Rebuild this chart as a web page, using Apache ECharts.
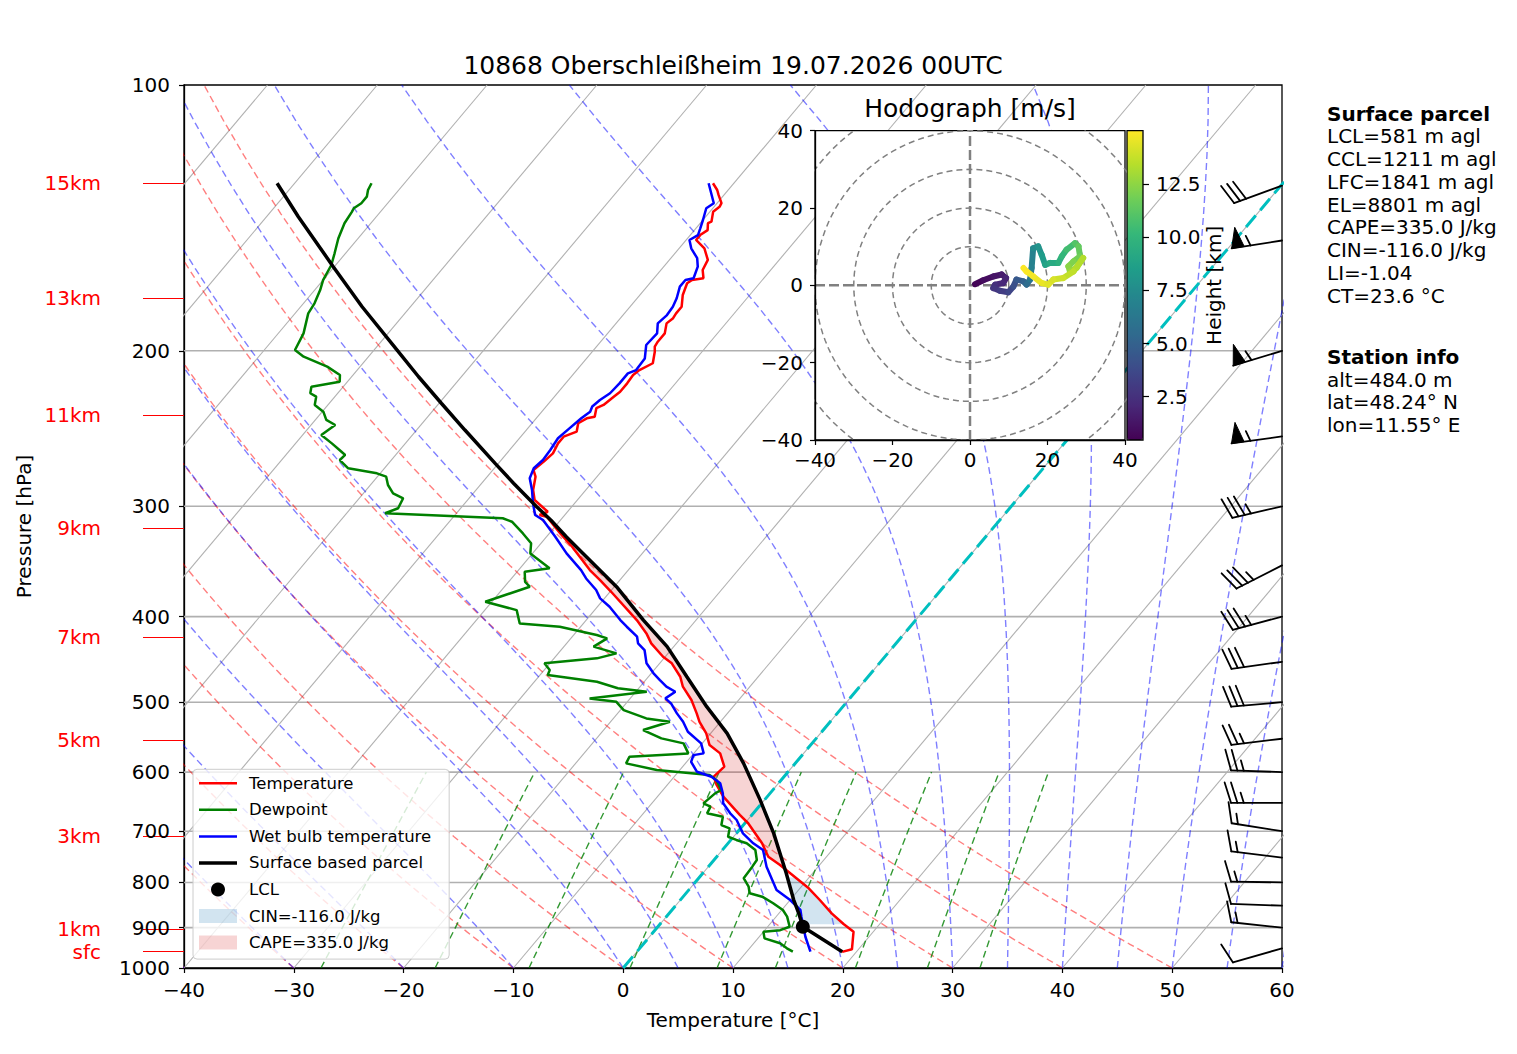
<!DOCTYPE html>
<html><head><meta charset="utf-8">
<script src="https://cdn.jsdelivr.net/npm/echarts@6.0.0/dist/echarts.min.js"></script>
<style>html,body{margin:0;padding:0;background:#fff}#c{width:1517px;height:1054px}</style>
</head><body><div id="c"></div>
<script>
// ---------------- DATA ----------------
const titleText = '10868 Oberschleißheim 19.07.2026 00UTC';
const hodoTitle = 'Hodograph [m/s]';

const tempP = [958.8,952.4,909.7,891.6,867.1,837.5,812.4,764.5,748.2,722.4,685.6,670.9,639.6,620.5,607.2,591.6,571.4,559.2,542.3,526.2,514.8,497.2,480.2,467.9,451.8,444.1,428.9,417.9,403.6,374.9,363.7,354.3,333.4,322.0,308.3,306.9,304.3,295.1,287.5,277.7,272.9,267.0,261.3,254.6,250.2,246.9,241.6,238.5,237.5,232.3,230.3,225.4,222.5,217.7,213.0,210.3,206.6,200.5,197.8,195.3,191.1,186.2,183.7,181.4,178.3,172.9,167.7,166.3,165.5,162.0,157.8,153.1,149.8,147.9,146.0,143.4,142.8,139.2,137.4,136.1,133.2,131.5,129.2];
const tempT = [18.7,19.4,18.2,16.7,14.8,12.7,10.8,6.4,4.7,3.1,0.3,-1.1,-4.0,-5.5,-6.4,-6.2,-7.6,-9.2,-10.4,-11.9,-12.8,-14.3,-16.1,-17.1,-18.9,-20.2,-22.3,-23.5,-25.4,-29.9,-31.8,-33.5,-36.9,-39.0,-41.5,-42.3,-41.8,-43.9,-44.8,-45.6,-46.3,-46.0,-45.8,-46.1,-46.1,-45.3,-45.8,-45.4,-44.8,-45.3,-44.9,-44.6,-44.4,-44.4,-44.5,-44.3,-43.6,-44.3,-44.7,-44.8,-44.8,-45.4,-45.2,-45.3,-45.3,-46.1,-46.6,-46.4,-45.5,-46.2,-46.5,-47.7,-49.1,-49.1,-48.8,-49.3,-49.1,-49.7,-49.5,-49.6,-50.5,-51.0,-51.9];

const dewP = [958.3,949.9,937.6,925.6,909.9,906.0,898.0,874.7,859.6,844.6,830.3,823.0,809.0,791.3,767.8,754.5,735.1,722.4,716.1,710.1,694.8,688.9,674.1,668.1,656.6,650.9,634.2,628.7,612.5,604.6,596.8,586.5,576.5,571.4,556.7,549.5,537.7,526.2,521.6,510.4,499.5,495.1,486.6,482.2,474.1,465.9,459.8,451.8,446.0,440.2,432.6,423.3,419.7,410.7,407.2,393.3,384.8,370.0,365.3,355.9,352.7,339.2,330.4,322.0,312.3,309.5,305.5,301.5,293.8,290.0,283.8,277.7,275.3,271.7,265.9,262.4,259.0,254.6,249.1,242.7,239.5,234.4,230.3,225.4,223.4,219.6,216.8,213.0,208.4,203.1,199.6,191.1,181.4,176.7,170.7,166.3,159.9,155.1,149.2,143.4,139.2,137.9,136.1,133.8,131.5,129.2];
const dewT = [14.2,13.4,12.4,10.6,10.0,11.4,12.0,11.0,10.1,8.7,7.2,5.8,5.2,4.1,4.0,3.9,3.0,1.7,0.5,-0.5,-1.0,-2.0,-2.5,-4.2,-4.4,-5.3,-5.0,-4.7,-5.9,-6.9,-12.1,-15.4,-15.6,-10.5,-11.7,-14.1,-16.4,-14.6,-17.0,-19.7,-21.0,-23.7,-19.0,-21.9,-24.3,-29.3,-29.5,-30.5,-26.1,-24.7,-27.3,-26.7,-27.9,-31.9,-35.8,-37.1,-40.6,-37.7,-38.5,-39.3,-37.3,-40.2,-40.9,-42.4,-44.3,-45.4,-56.5,-55.7,-56.0,-57.3,-58.4,-59.2,-60.3,-63.3,-64.7,-64.6,-65.5,-66.7,-68.3,-67.8,-69.0,-69.9,-71.2,-71.7,-72.5,-72.9,-70.7,-71.2,-73.0,-75.9,-77.2,-77.7,-78.8,-79.0,-79.5,-80.0,-80.4,-81.0,-81.8,-82.4,-82.6,-82.7,-82.4,-82.4,-82.8,-83.0];

const wetP = [958.3,921.7,874.7,859.6,837.5,816.1,767.8,735.1,722.4,703.9,679.8,668.0,650.9,634.1,617.8,607.3,599.5,584.1,574.0,571.4,556.7,540.0,526.1,514.8,501.6,495.1,486.6,480.2,472.0,463.7,451.8,436.4,428.9,421.5,410.7,403.6,389.8,381.4,373.2,362.1,354.3,339.2,324.8,310.9,306.9,297.6,287.5,278.9,271.7,265.9,259.0,251.2,244.7,238.5,234.4,231.3,227.4,223.4,217.7,212.1,210.3,204.0,197.0,191.1,186.2,182.2,178.3,174.4,169.2,166.3,165.5,160.6,157.1,153.1,149.8,147.9,145.4,142.2,137.9,136.1,129.2];
const wetT = [15.8,14.2,12.3,11.7,10.0,8.0,5.3,3.7,2.3,0.6,-1.0,-2.1,-3.5,-4.3,-5.3,-6.6,-8.3,-9.6,-9.9,-9.1,-10.1,-12.2,-13.4,-14.6,-15.9,-16.8,-16.4,-17.6,-18.7,-19.8,-21.2,-22.4,-23.5,-24.1,-25.8,-26.9,-28.9,-30.4,-31.4,-33.2,-34.3,-36.9,-39.2,-41.6,-42.7,-43.8,-44.9,-46.0,-46.4,-46.2,-46.3,-46.5,-46.2,-45.9,-45.6,-45.8,-45.6,-45.2,-45.1,-45.1,-44.6,-44.7,-45.6,-45.5,-46.2,-46.0,-46.1,-46.4,-47.0,-47.0,-46.4,-46.9,-47.6,-48.9,-49.7,-49.3,-49.6,-50.0,-50.6,-50.3,-52.3];

const parcelP = [958.3,898.0,867.0,837.0,781.2,703.9,645.1,586.5,542.3,505.9,467.9,432.6,403.6,370.0,339.2,324.8,310.9,300.3,282.5,268.2,245.9,229.3,214.0,199.6,178.3,160.6,141.0,129.2];
const parcelT = [18.7,13.2,11.8,10.3,7.6,3.4,-0.4,-4.7,-8.5,-12.4,-16.5,-20.6,-24.8,-29.8,-35.4,-38.2,-40.9,-43.2,-47.1,-50.3,-55.6,-59.8,-63.9,-67.9,-74.4,-80.1,-87.1,-91.6];

const lclP = 898.0, lclT = 13.2;
const lfcP = 790, elP = 305, cinBaseP = 892;
const cinLabel = 'CIN=-116.0 J/kg';
const capeLabel = 'CAPE=335.0 J/kg';

const barbP   = [950,900,850,800,750,700,650,600,550,500,450,400,350,300,250,200,150,130];
const barbSpd = [10,15,10,15,15,15,25,25,25,30,30,35,35,35,55,55,55,30];
const barbDir = [254,276,272,271,277,279,270,272,263,265,262,255,243,257,262,253,261,250];

const hodoZ = [0.5,0.8,1.1,1.4,1.7,2.0,2.3,2.6,2.9,3.3,3.8,4.3,4.8,5.3,5.9,6.5,7.2,7.7,8.2,8.7,9.1,9.5,9.9,10.3,10.8,11.3,11.7,12.0,12.3,12.6,12.9,13.2,13.5,13.8,14.1,14.3,14.5,14.7,14.9,15.0];
const hodoU = [1.3,3.4,6.0,8.2,9.3,8.6,6.5,6.0,7.7,9.9,11.2,12.0,13.8,14.6,15.5,15.9,16.3,17.6,18.5,19.4,20.6,22.8,23.7,24.9,27.1,28.0,28.4,26.7,25.4,25.8,27.5,29.2,26.7,24.1,21.5,20.2,18.5,16.3,14.6,13.8];
const hodoV = [0.3,1.3,2.3,2.8,1.9,0.6,0.2,-0.7,-1.4,-1.8,-0.3,1.5,1.0,0.2,1.5,4.5,9.6,10.1,7.9,5.3,5.8,5.8,7.5,9.2,10.9,10.1,7.5,6.2,4.9,3.6,4.5,7.1,3.6,1.9,1.5,0.2,0.6,2.3,3.6,4.5];
const hodoZmin = 0.46, hodoZmax = 15.02;
const hodoRings = [10,20,30,40,50];
const cbarTicks = [2.5,5.0,7.5,10.0,12.5];

const pressureTicks = [100,200,300,400,500,600,700,800,900,1000];
const isobars = [200,300,400,500,600,700,800,900];
const heightNames = ['15km','13km','11km','9km','7km','5km','3km','1km','sfc'];
const heightP = [129.2,174.4,236.4,317.5,421.8,551.8,708.8,903.4,958.3];

const mixingRatios = [0.0004,0.001,0.002,0.004,0.007,0.01,0.016,0.024,0.032];
const dryT0 = [-40,-30,-20,-10,0,10,20,30,40,50];
const moistT0 = [-40,-30,-20,-10,0,5,10,15,20,25,30,35,40,45,50,55,60];

const parcelHeader = 'Surface parcel';
const parcelInfo = ['LCL=581 m agl','CCL=1211 m agl','LFC=1841 m agl','EL=8801 m agl','CAPE=335.0 J/kg','CIN=-116.0 J/kg','LI=-1.04','CT=23.6 °C'];
const stationHeader = 'Station info';
const stationInfo = ['alt=484.0 m','lat=48.24° N','lon=11.55° E'];

// ---------------- HELPERS ----------------
const FONT = "'DejaVu Sans', sans-serif";
const SKEW = 67.6; // skew of the Skew-T projection (degC per decade of pressure)
const sx = (T, p) => T + SKEW * Math.log10(1000 / p);
const ly = p => Math.log10(p);
const prof = (P, T) => P.map((p, i) => [sx(T[i], p), ly(p)]);
const fmtMinus = v => (v < 0 ? '\u2212' + Math.abs(v) : String(v));
function interp(P, T, p) {
  for (let i = 0; i < P.length - 1; i++) {
    if (P[i] >= p && P[i + 1] <= p) {
      const f = (Math.log(p) - Math.log(P[i])) / (Math.log(P[i + 1]) - Math.log(P[i]));
      return T[i] + f * (T[i + 1] - T[i]);
    }
  }
  return p > P[0] ? T[0] : T[T.length - 1];
}
function satMix(p, T) { const es = 6.112 * Math.exp(17.67 * (T - 273.15) / (T - 29.65)); return 0.621957 * es / (p - es); }
function dTdp(p, T) {
  const rs = satMix(p, T), Rd = 287.04749, Cp = 1004.6662, Lv = 2.50084e6, eps = 0.621957;
  return (Rd * T + Lv * rs) / (Cp + Lv * Lv * rs * eps / (Rd * T * T)) / p;
}
function moistLine(t0) {
  let T = t0 + 273.15, p = 1000; const dp = -5; const pts = [[sx(t0, 1000), 3]];
  while (p > 100.5) {
    const k1 = dTdp(p, T), k2 = dTdp(p + dp / 2, T + dp / 2 * k1), k3 = dTdp(p + dp / 2, T + dp / 2 * k2), k4 = dTdp(p + dp, T + dp * k3);
    T += dp / 6 * (k1 + 2 * k2 + 2 * k3 + k4); p += dp;
    if (Math.round(p) % 10 === 0) pts.push([sx(T - 273.15, p), ly(p)]);
  }
  return pts;
}

const series = [];
function bgLine(pts, color, width, type, z) {
  series.push({ type: 'line', data: pts, symbol: 'none', silent: true, animation: false, xAxisIndex: 0, yAxisIndex: 0,
    lineStyle: { color: color, width: width, type: type }, z: z || 1 });
}
// isotherms (skewed grid)
for (let T = -120; T <= 60; T += 10) bgLine([[sx(T, 1000), 3], [sx(T, 100), 2]], '#b0b0b0', 1.1, 'solid');
// isobars
isobars.forEach(p => bgLine([[-40, ly(p)], [60, ly(p)]], '#b0b0b0', 1.6, 'solid'));
// dry adiabats
const pLev = []; for (let p = 1000; p >= 100; p -= 10) pLev.push(p);
dryT0.forEach(t0 => { const th = t0 + 273.15; bgLine(pLev.map(p => [sx(th * Math.pow(p / 1000, 0.28571) - 273.15, p), ly(p)]), 'rgba(255,0,0,0.5)', 1.4, [7, 4]); });
// moist adiabats
moistT0.forEach(t0 => bgLine(moistLine(t0), 'rgba(0,0,255,0.5)', 1.4, [7, 4]));
// mixing ratio lines
mixingRatios.forEach(w => { const pts = []; for (let p = 1000; p >= 600; p -= 20) { const e = p * w / (0.621957 + w); const v = Math.log(e / 6.112); pts.push([sx(243.5 * v / (17.67 - v), p), ly(p)]); } bgLine(pts, 'rgba(0,128,0,0.8)', 1.4, [7, 4]); });
// 0 degC isotherm
bgLine([[sx(0, 1000), 3], [sx(0, 100), 2]], '#00bfbf', 3, [15, 7], 2);

// shading
function shadePoly(pTop, pBot, mode) {
  const ps = Array.from(new Set(tempP.concat(parcelP).filter(p => p < pBot && p > pTop).concat([pBot, pTop]))).sort((a, b) => b - a);
  const right = [], left = [];
  ps.forEach(p => {
    const te = interp(tempP, tempT, p), tp = interp(parcelP, parcelT, p);
    if (mode === 'cape') { right.push([sx(tp, p), ly(p)]); left.push([sx(Math.min(te, tp), p), ly(p)]); }
    else { left.push([sx(tp, p), ly(p)]); right.push([sx(Math.max(te, tp), p), ly(p)]); }
  });
  return right.concat(left.reverse());
}
function polySeries(name, poly, color) {
  series.push({ name: name, type: 'custom', xAxisIndex: 0, yAxisIndex: 0, data: [[0, 2.5]], encode: { x: 0, y: 1 }, z: 2, silent: true, animation: false,
    itemStyle: { color: color },
    renderItem: (params, api) => ({ type: 'polygon', shape: { points: poly.map(pt => api.coord(pt)) }, style: { fill: color } }) });
}
polySeries(cinLabel, shadePoly(lfcP, cinBaseP, 'cin'), 'rgba(31,119,180,0.2)');
polySeries(capeLabel, shadePoly(elP, lfcP, 'cape'), 'rgba(214,39,40,0.2)');

// profiles
function profSeries(name, P, T, color, width) {
  series.push({ name: name, type: 'line', data: prof(P, T), symbol: 'none', animation: false, silent: true, xAxisIndex: 0, yAxisIndex: 0,
    lineStyle: { color: color, width: width }, itemStyle: { color: color }, z: 3 });
}
profSeries('Temperature', tempP, tempT, '#ff0000', 2.5);
profSeries('Dewpoint', dewP, dewT, '#008000', 2.5);
profSeries('Wet bulb temperature', wetP, wetT, '#0000ff', 2.5);
profSeries('Surface based parcel', parcelP, parcelT, '#000000', 3.5);
series.push({ name: 'LCL', type: 'scatter', data: [[sx(lclT, lclP), ly(lclP)]], symbol: 'circle', symbolSize: 14, itemStyle: { color: '#000', opacity: 1 }, z: 5, animation: false, silent: true });

// wind barbs
series.push({ type: 'custom', xAxisIndex: 0, yAxisIndex: 0, z: 4, silent: true, animation: false,
  data: barbP.map((p, i) => [60, ly(p), barbSpd[i], barbDir[i]]), encode: { x: 0, y: 1 },
  renderItem: (params, api) => {
    const base = api.coord([api.value(0), api.value(1)]);
    const spd = api.value(2), dir = api.value(3) * Math.PI / 180;
    const d = [Math.sin(dir), -Math.cos(dir)], n = [Math.cos(dir), Math.sin(dir)];
    const L = 51, fh = 0.4 * L, fw = 0.25 * L, sp = 0.125 * L;
    const P = t => [base[0] + d[0] * t, base[1] + d[1] * t];
    const off = (pt, a) => [pt[0] + n[0] * a, pt[1] + n[1] * a];
    const seg = (a, b) => ({ type: 'line', shape: { x1: a[0], y1: a[1], x2: b[0], y2: b[1] }, style: { stroke: '#000', lineWidth: 1.8, lineCap: 'round' } });
    const ch = [seg(base, P(L))];
    let s = Math.round(spd / 5) * 5; const nf = Math.floor(s / 50); s -= nf * 50; const nb = Math.floor(s / 10); s -= nb * 10; const half = s >= 5;
    let o = L;
    for (let i = 0; i < nf; i++) { if (o !== L) o += sp / 2; ch.push({ type: 'polygon', shape: { points: [P(o), off(P(o - fw / 2), fh), P(o - fw)] }, style: { fill: '#000', stroke: '#000', lineWidth: 1 } }); o -= fw + sp; }
    for (let i = 0; i < nb; i++) { ch.push(seg(P(o), off(P(o + fw / 2), fh))); o -= sp; }
    if (half) { if (o === L) o -= 1.5 * sp; ch.push(seg(P(o), off(P(o + fw / 4), fh / 2))); }
    return { type: 'group', children: ch };
  } });

// hodograph rings & crosshair
hodoRings.forEach(r => { const pts = []; for (let a = 0; a <= 360; a += 3) pts.push([r * Math.cos(a * Math.PI / 180), r * Math.sin(a * Math.PI / 180)]);
  series.push({ type: 'line', xAxisIndex: 1, yAxisIndex: 2, data: pts, symbol: 'none', silent: true, animation: false, z: 11, lineStyle: { color: '#808080', width: 1.5, type: [6, 4] } }); });
[[[-40, 0], [40, 0]], [[0, -40], [0, 40]]].forEach(pts => series.push({ type: 'line', xAxisIndex: 1, yAxisIndex: 2, data: pts, symbol: 'none', silent: true, animation: false, z: 11, lineStyle: { color: '#808080', width: 2.5, type: [10, 4] } }));
// hodograph trace
const hodoSeg = [];
for (let i = 0; i < hodoU.length - 1; i++) hodoSeg.push([hodoU[i], hodoV[i], hodoU[i + 1], hodoV[i + 1], (hodoZ[i] + hodoZ[i + 1]) / 2]);
const hodoIdx = series.length;
series.push({ type: 'custom', xAxisIndex: 1, yAxisIndex: 2, data: hodoSeg, encode: { x: [0, 2], y: [1, 3] }, z: 13, silent: true, animation: false,
  renderItem: (params, api) => { const a = api.coord([api.value(0), api.value(1)]), b = api.coord([api.value(2), api.value(3)]);
    return { type: 'line', shape: { x1: a[0], y1: a[1], x2: b[0], y2: b[1] }, style: { stroke: api.visual('color'), lineWidth: 6, lineCap: 'round' } }; } });

const viridis = ['#440154', '#482878', '#3e4989', '#31688e', '#26828e', '#1f9e89', '#35b779', '#6ece58', '#b5de2b', '#fde725'];

// texts on the right
const graphics = [];
function addText(txt, x, baseline, bold) {
  graphics.push({ type: 'text', x: x, y: baseline - 7.5, silent: true,
    style: { text: txt, fill: '#000', font: (bold ? 'bold ' : '') + '20px ' + FONT, fontSize: 20, fontFamily: FONT, fontWeight: bold ? 'bold' : 'normal',
      textAlign: 'left', textVerticalAlign: 'middle', align: 'left', verticalAlign: 'middle' } });
}
addText(parcelHeader, 1327, 121, true);
parcelInfo.forEach((t, i) => addText(t, 1327, 121 + 22.75 * (i + 1), false));
addText(stationHeader, 1327, 364.3, true);
stationInfo.forEach((t, i) => addText(t, 1327, 364.3 + 22.75 * (i + 1), false));

const lineIcon = w => 'path://M0,0 L38,0 L38,' + w + ' L0,' + w + ' Z';
const axisTxt = { fontSize: 20, color: '#000', fontFamily: FONT };
const option = {
  animation: false,
  textStyle: { fontFamily: FONT },
  title: [
    { text: titleText, left: 733, top: 53, padding: 0, textAlign: 'center', textStyle: { fontSize: 25, fontWeight: 'normal', color: '#000', fontFamily: FONT } },
    { text: hodoTitle, left: 970, top: 96, padding: 0, textAlign: 'center', z: 12, textStyle: { fontSize: 25, fontWeight: 'normal', color: '#000', fontFamily: FONT } }
  ],
  grid: [
    { left: 184, top: 85, width: 1098, height: 883, show: true, borderColor: '#000', borderWidth: 1.3, backgroundColor: 'rgba(0,0,0,0)' },
    { left: 815, top: 130.7, width: 310, height: 309.3, show: true, borderColor: '#000', borderWidth: 1.3, backgroundColor: '#fff', z: 10 },
    { left: 1127, top: 130.7, width: 16, height: 309.3, show: true, borderColor: '#000', borderWidth: 1.3, backgroundColor: 'rgba(0,0,0,0)', z: 10 }
  ],
  xAxis: [
    { gridIndex: 0, type: 'value', min: -40, max: 60, interval: 10, name: 'Temperature [°C]', nameLocation: 'middle', nameGap: 42, nameTextStyle: axisTxt,
      axisLine: { onZero: false, lineStyle: { color: '#000', width: 1.3 } }, axisTick: { length: 5, lineStyle: { color: '#000', width: 1.2 } },
      axisLabel: Object.assign({ margin: 12, formatter: fmtMinus }, axisTxt), splitLine: { show: false } },
    { gridIndex: 1, type: 'value', min: -40, max: 40, interval: 20, z: 12,
      axisLine: { onZero: false, lineStyle: { color: '#000', width: 1.3 } }, axisTick: { length: 5, lineStyle: { color: '#000', width: 1.2 } },
      axisLabel: Object.assign({ margin: 10, formatter: fmtMinus }, axisTxt), splitLine: { show: false } },
    { gridIndex: 2, type: 'value', min: 0, max: 1, show: false }
  ],
  yAxis: [
    { gridIndex: 0, type: 'value', min: 2, max: 3, inverse: true, name: 'Pressure [hPa]', nameLocation: 'middle', nameGap: 150, nameRotate: 90, nameTextStyle: axisTxt,
      axisLine: { onZero: false, lineStyle: { color: '#000', width: 1.3 } },
      axisTick: { length: 5, customValues: pressureTicks.map(ly), lineStyle: { color: '#000', width: 1.2 } },
      axisLabel: Object.assign({ margin: 14, customValues: pressureTicks.map(ly), formatter: v => String(Math.round(Math.pow(10, v))) }, axisTxt),
      splitLine: { show: false } },
    { gridIndex: 0, type: 'value', min: 2, max: 3, inverse: true, position: 'left',
      axisLine: { show: false, onZero: false },
      axisTick: { length: 41, customValues: heightP.map(ly), lineStyle: { color: '#ff0000', width: 1 } },
      axisLabel: { margin: 83, fontSize: 20, color: '#ff0000', fontFamily: FONT, customValues: heightP.map(ly),
        formatter: v => { const i = heightP.findIndex(p => Math.abs(ly(p) - v) < 1e-6); return i >= 0 ? heightNames[i] : ''; } },
      splitLine: { show: false } },
    { gridIndex: 1, type: 'value', min: -40, max: 40, interval: 20, z: 12,
      axisLine: { onZero: false, lineStyle: { color: '#000', width: 1.3 } }, axisTick: { length: 5, lineStyle: { color: '#000', width: 1.2 } },
      axisLabel: Object.assign({ margin: 12, formatter: fmtMinus }, axisTxt), splitLine: { show: false } },
    { gridIndex: 2, type: 'value', min: hodoZmin, max: hodoZmax, position: 'right', z: 12,
      name: 'Height [km]', nameLocation: 'middle', nameGap: 57, nameRotate: 90, nameTextStyle: axisTxt,
      axisLine: { show: false, onZero: false },
      axisTick: { length: 6, customValues: cbarTicks, lineStyle: { color: '#000', width: 1.2 } },
      axisLabel: Object.assign({ margin: 13, customValues: cbarTicks, formatter: v => v.toFixed(1) }, axisTxt), splitLine: { show: false } }
  ],
  visualMap: [{ type: 'continuous', seriesIndex: hodoIdx, dimension: 4, min: hodoZmin, max: hodoZmax, inRange: { color: viridis },
    left: 1127, top: 130.7, itemWidth: 16, itemHeight: 309.3, calculable: false, padding: 0, orient: 'vertical', hoverLink: false, z: 9, text: null }],
  legend: { orient: 'vertical', left: 193, top: 769.3, padding: [5.5, 18, 8, 6], itemGap: 9.55, itemWidth: 38, itemHeight: 14, selectedMode: false,
    backgroundColor: 'rgba(255,255,255,0.8)', borderColor: '#cccccc', borderWidth: 1, borderRadius: 4,
    textStyle: { fontSize: 16.5, color: '#000', fontFamily: FONT, padding: [0, 0, 0, 7] },
    data: [
      { name: 'Temperature', icon: lineIcon(2.5) },
      { name: 'Dewpoint', icon: lineIcon(2.5) },
      { name: 'Wet bulb temperature', icon: lineIcon(2.5) },
      { name: 'Surface based parcel', icon: lineIcon(3.5) },
      { name: 'LCL', icon: 'circle', itemStyle: { color: '#000', opacity: 1 } },
      { name: cinLabel, icon: 'rect' },
      { name: capeLabel, icon: 'rect' }
    ] },
  graphic: graphics,
  series: series
};
const chart = echarts.init(document.getElementById('c'), null, { renderer: 'svg', width: 1517, height: 1054 });
chart.setOption(option);
</script></body></html>
